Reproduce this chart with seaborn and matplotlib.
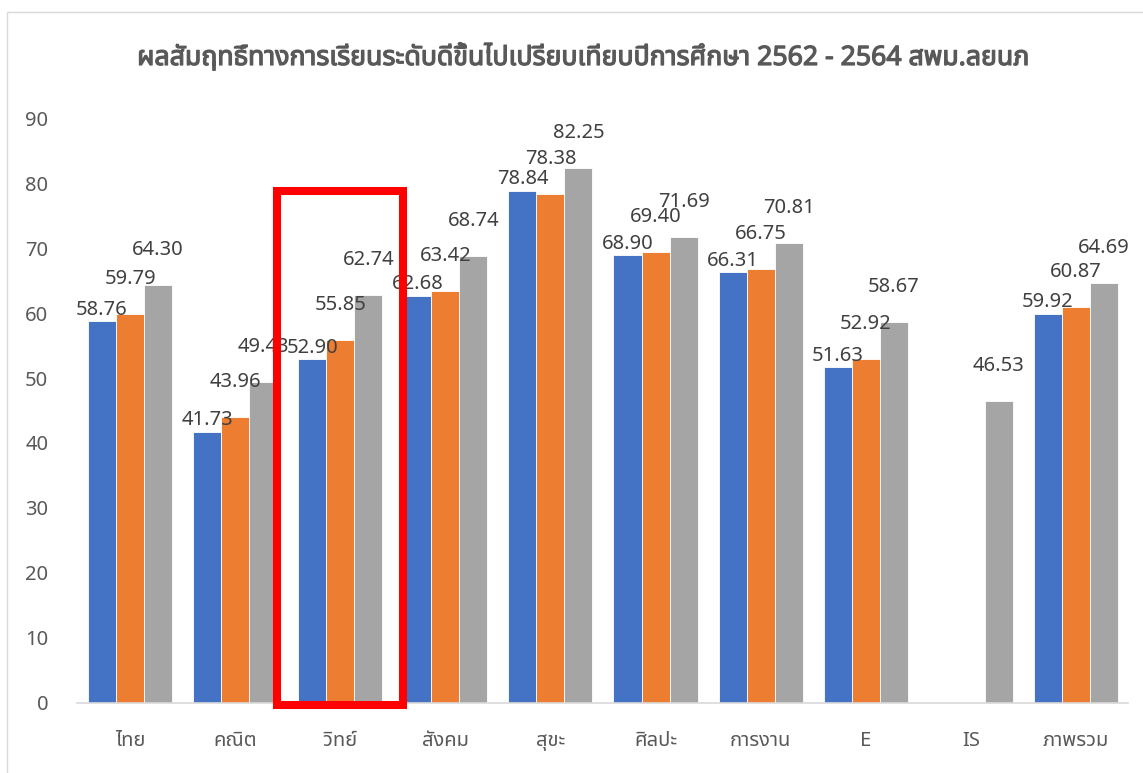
import numpy as np
import pandas as pd
import matplotlib
matplotlib.use("Agg")
import matplotlib.pyplot as plt
import matplotlib.patheffects as pe
import seaborn as sns
from matplotlib.patches import Rectangle

# data
subjects = ['ไทย', 'คณิต', 'วิทย์', 'สังคม', 'สุขะ', 'ศิลปะ', 'การงาน', 'E', 'IS', 'ภาพรวม']
years = ['2562', '2563', '2564']
y2562 = [58.76, 41.73, 52.90, 62.68, 78.84, 68.90, 66.31, 51.63, np.nan, 59.92]
y2563 = [59.79, 43.96, 55.85, 63.42, 78.38, 69.40, 66.75, 52.92, np.nan, 60.87]
y2564 = [64.30, 49.43, 62.74, 68.74, 82.25, 71.69, 70.81, 58.67, 46.53, 64.69]
highlight = 'วิทย์'

df = pd.DataFrame({'subject': subjects, '2562': y2562, '2563': y2563, '2564': y2564})
df = df.melt(id_vars='subject', var_name='year', value_name='score')

sns.set_theme(style='white')
plt.rcParams['font.family'] = ['Noto Sans Thai', 'DejaVu Sans']

fig = plt.figure(figsize=(11.43, 7.73), dpi=100)
ax = fig.add_axes([0.0678, 0.0906, 0.9195, 0.7567])

palette = ['#4472C4', '#ED7D31', '#A5A5A5']
sns.barplot(data=df, x='subject', y='score', hue='year', order=subjects, hue_order=years,
            palette=palette, saturation=1, width=0.8, edgecolor='white', linewidth=0.6,
            legend=False, ax=ax)

# data labels, Excel style (blue sits close, the others float higher)
pads = [1, 18, 18]
for cont, pad in zip(ax.containers, pads):
    ax.bar_label(cont, fmt=lambda v: '' if np.isnan(v) else f'{v:.2f}',
                 padding=pad, fontsize=14.5, color='#404040')

ax.set_ylim(0, 90)
ax.set_yticks(range(0, 91, 10))
ax.set_xlim(-0.5, len(subjects) - 0.5)
ax.set_xlabel('')
ax.set_ylabel('')
ax.tick_params(axis='y', length=0, pad=21, labelsize=14.5, labelcolor='#595959')
ax.tick_params(axis='x', length=0, pad=20, labelsize=14.5, labelcolor='#595959')
for s in ['left', 'right', 'top']:
    ax.spines[s].set_visible(False)
ax.spines['bottom'].set_color('#D9D9D9')
ax.spines['bottom'].set_linewidth(1.2)
ax.grid(False)

fig.text(0.509, 0.925, 'ผลสัมฤทธิ์ทางการเรียนระดับดีขึ้นไปเปรียบเทียบปีการศึกษา 2562 - 2564 สพม.ลยนภ',
         ha='center', va='center', fontsize=19.2, color='#595959',
         path_effects=[pe.withStroke(linewidth=0.9, foreground='#595959')])

# red box around the science group
i = subjects.index(highlight)
ax.add_patch(Rectangle((i - 0.6, -0.3), 1.2, 79.1, fill=False, edgecolor='#FF0000',
                       linewidth=5.8, clip_on=False, zorder=5))

# chart border
fig.patches.append(Rectangle((7 / 1143, -0.1), 1.2, 1.1 - 12 / 773, fill=False,
                             edgecolor='#D9D9D9', linewidth=1, transform=fig.transFigure))

fig.savefig('out.png', dpi=100)
